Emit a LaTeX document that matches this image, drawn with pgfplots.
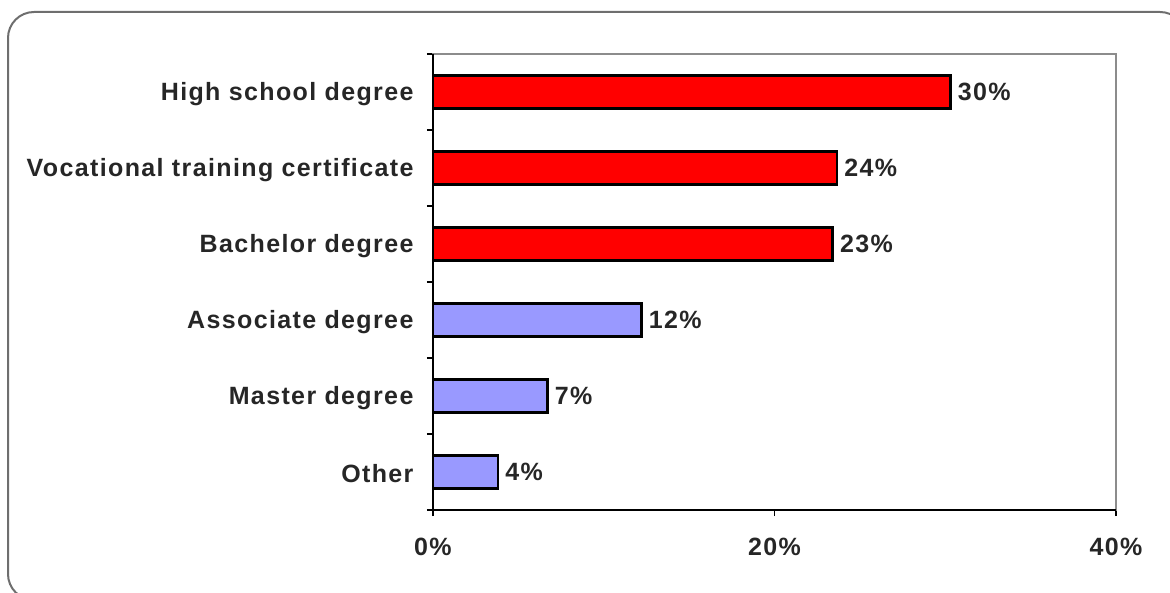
\documentclass[border=0pt]{standalone}
\usepackage{pgfplots}
\pgfplotsset{compat=1.18}
\usepackage{fontspec}
\newfontfamily\lab{Liberation Sans Bold}[LetterSpace=5.5]
\definecolor{barred}{RGB}{255,0,0}
\definecolor{barblue}{RGB}{153,153,255}
\definecolor{framegray}{RGB}{110,110,110}
\definecolor{boxgray}{RGB}{140,140,140}
\begin{document}
\begin{tikzpicture}[x=1pt,y=1pt]
\path (0,0) rectangle (1170,592);
\begin{scope}
\clip (0,0) rectangle (1170,592);
\draw[rounded corners=26pt, line width=2pt, framegray] (8,-8) rectangle (1186,580);
\end{scope}
\begin{axis}[
  at={(433pt,82pt)}, anchor=south west,
  scale only axis, width=683pt, height=456pt,
  xbar, bar shift=0pt, bar width=0.43,
  xmin=0, xmax=40, ymin=-0.5, ymax=5.5,
  xtick={0,20,40},
  xticklabels={0\%,20\%,40\%},
  ytick={0,1,2,3,4,5},
  yticklabels={Other,Master degree,Associate degree,Bachelor degree,Vocational training certificate,High school degree},
  minor ytick={-0.5,0.5,1.5,2.5,3.5,4.5,5.5},
  minor xtick={0,20,40},
  major tick length=0pt,
  minor tick length=6pt,
  minor tick style={draw=black, line width=1.2pt},
  tick align=outside,
  tick pos=left,
  axis line style={boxgray, line width=2pt},
  ticklabel style={font=\lab\fontsize{25}{28}\selectfont, text=black!85},
  yticklabel style={xshift=-16pt, yshift=-2pt},
  xticklabel style={yshift=-25pt},
  /pgf/number format/assume math mode=true,
  nodes near coords={\pgfmathprintnumber[fixed,precision=0,assume math mode=true]{\pgfplotspointmeta}\%},
  nodes near coords style={font=\lab\fontsize{25}{28}\selectfont, text=black!85, anchor=west, xshift=3pt},
  point meta=x,
  clip=false,
]
\addplot[fill=barblue, draw=black, line width=2.5pt] coordinates {(3.8,0) (6.7,1) (12.2,2)};
\addplot[fill=barred, draw=black, line width=2.5pt] coordinates {(23.4,3) (23.65,4) (30.3,5)};
\draw[black, line width=2pt] (rel axis cs:0,1) -- (rel axis cs:0,0) -- (rel axis cs:1,0);
\end{axis}
\end{tikzpicture}
\end{document}
